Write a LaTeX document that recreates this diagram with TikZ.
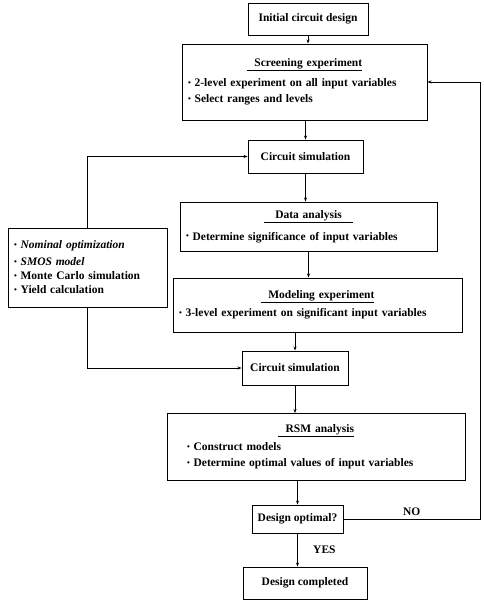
\documentclass[tikz,border=0pt]{standalone}
\usepackage{fontspec}
\setmainfont{Liberation Serif}
\usetikzlibrary{arrows.meta}
\newcommand{\itm}{\raisebox{0.3ex}{\footnotesize\textbullet}\ }

\tikzset{
  box/.style={draw, line width=0.9pt, rectangle, inner sep=3pt,
    font=\bfseries\fontsize{11.5}{14}\selectfont},
  listbox/.style={box, align=left, inner xsep=6pt},
  flow/.style={line width=0.8pt, -{Stealth[length=4pt,width=3pt]}},
}

\begin{document}
\begin{tikzpicture}[x=1pt,y=-1pt]
  \useasboundingbox (0,0) rectangle (483,601);

  % main column
  \node[box, minimum width=120, minimum height=32] (init) at (308,19) {Initial circuit design};
  \node[listbox, text width=233, minimum height=76] (screen) at (304.5,82)
    {{\centering\underline{\ \ Screening experiment}\par}\vspace{6pt}
     \itm 2-level experiment on all input variables\\[2pt]
     \itm Select ranges and levels};
  \node[box, minimum width=115, minimum height=33] (sim1) at (305.5,156.5) {Circuit simulation};
  \node[listbox, text width=245, minimum height=49] (data) at (308.5,226.5)
    {{\centering\underline{\ \ \ Data analysis\ \ \ }\par}\vspace{8pt}
     \itm Determine significance of input variables};
  \node[listbox, text width=277, minimum height=54] (model) at (317.5,305)
    {{\centering\underline{\ \ Modeling experiment}\par}\vspace{4pt}
     \itm 3-level experiment on significant input variables};
  \node[box, minimum width=106, minimum height=34] (sim2) at (295,368) {Circuit simulation};
  \node[listbox, text width=286, minimum height=67] (rsm) at (316,447)
    {{\centering\underline{\ \ RSM analysis}\par}\vspace{4pt}
     \hspace*{14pt}\itm Construct models\\[2pt]
     \hspace*{14pt}\itm Determine optimal values of input variables};
  \node[box, minimum width=91, minimum height=28, inner xsep=1pt] (opt) at (297.5,519) {Design optimal?};
  \node[box, minimum width=124, minimum height=32] (done) at (305,583) {Design completed};

  % side box
  \node[listbox, text width=147, minimum height=79] (yield) at (87.5,267.5)
    {\itm\textit{Nominal optimization}\\[3pt]
     \itm\textit{SMOS model}\\
     \itm Monte Carlo simulation\\
     \itm Yield calculation};

  \coordinate (loop) at (480,300);

  % connectors
  \draw[flow] (init.south) -- (init.south |- screen.north);
  \draw[flow] (sim1.south |- screen.south) -- (sim1.north);
  \draw[flow] (sim1.south) -- (sim1.south |- data.north);
  \draw[flow] (data.south) -- (data.south |- model.north);
  \draw[flow] (sim2.south |- model.south) -- (sim2.north);
  \draw[flow] (sim2.south) -- (sim2.south |- rsm.north);
  \draw[flow] (opt.north |- rsm.south) -- (opt.north);
  \draw[flow] (opt.south) -- node[right=12pt, font=\bfseries\fontsize{11.5}{14}\selectfont] {YES} (opt.south |- done.north);
  \draw[flow] (opt.east) -- node[above=0pt, font=\bfseries\fontsize{11.5}{14}\selectfont] {NO} (opt.east -| loop) |- (screen.east);
  \draw[flow] (yield.north) |- (sim1.west);
  \draw[flow] (yield.south) |- (sim2.west);
\end{tikzpicture}
\end{document}
